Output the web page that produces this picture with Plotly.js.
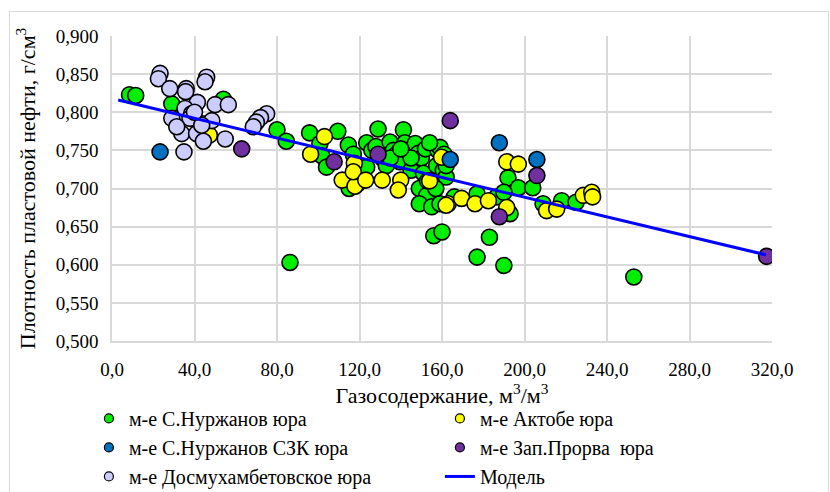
<!DOCTYPE html>
<html>
<head>
<meta charset="utf-8">
<script src="https://cdn.plot.ly/plotly-3.0.1.min.js"></script>
<style>
  html, body { margin: 0; padding: 0; background: #ffffff; font-family: "Liberation Serif", serif; }
  #chart { width: 830px; height: 492px; position: absolute; left: 0; top: 0; }
  svg text { font-family: "Liberation Serif", serif !important; }
  #frame { position: absolute; left: 9px; top: 11px; width: 818px; height: 490px;
           border: 1px solid #d9d9d9; pointer-events: none; }
</style>
</head>
<body>
<div id="chart"></div>
<div id="frame"></div>
<script>
// ---- Data ----
const seriesNames = [
  "м-е С.Нуржанов юра",
  "м-е Актобе юра",
  "м-е С.Нуржанов СЗК юра",
  "м-е Зап.Прорва  юра",
  "м-е Досмухамбетовское юра",
  "Модель"
];

const nurzhX = [8.5, 11.5, 29, 54, 44, 80, 84.5, 86.3,
  95.8, 100.8, 101.7, 104, 109.5, 114.6, 115, 117, 119, 123.5, 123.5, 126, 129, 128, 131, 133, 134.8,
  136.4, 138, 139.6, 141.3, 142, 143, 145, 147, 148.5, 150, 151, 152, 149, 152.6, 149, 155, 157.4,
  158, 159, 160.6, 159, 162, 156, 160, 166, 177, 186.5, 193, 183, 177, 190, 192, 197, 204, 209,
  218, 225, 253, 190, 161, 154, 135, 145, 140, 153, 157, 162];
const nurzhY = [0.823, 0.822, 0.811, 0.817, 0.785, 0.777, 0.762, 0.603,
  0.773, 0.759, 0.743, 0.728, 0.775, 0.757, 0.700, 0.745, 0.706, 0.760, 0.728, 0.750, 0.778, 0.755, 0.740, 0.730, 0.761,
  0.750, 0.745, 0.735, 0.777, 0.760, 0.750, 0.724, 0.759, 0.746, 0.740, 0.720, 0.752, 0.700, 0.691, 0.680, 0.676, 0.730,
  0.750, 0.754, 0.724, 0.680, 0.715, 0.638, 0.643, 0.689, 0.693, 0.689, 0.667, 0.636, 0.610, 0.599, 0.714, 0.701, 0.701, 0.680,
  0.684, 0.682, 0.584, 0.695, 0.745, 0.760, 0.740, 0.740, 0.752, 0.710, 0.700, 0.730];

const aktobeX = [47.2, 96.3, 103, 111.6, 117.8, 117.5, 117, 123, 131, 140, 138.8, 154, 159.8, 163, 162,
  169.5, 176, 182.5, 191.4, 197, 191.4, 210.7, 215.6, 228.5, 232.6, 233];
const aktobeY = [0.770, 0.745, 0.768, 0.711, 0.703, 0.733, 0.722, 0.711, 0.711, 0.711, 0.698, 0.710, 0.741, 0.680, 0.678,
  0.687, 0.680, 0.684, 0.735, 0.732, 0.675, 0.671, 0.673, 0.691, 0.695, 0.689];

const szkX = [23.3, 164, 187.8, 206];
const szkY = [0.748, 0.738, 0.760, 0.738];

const prorvaX = [62.9, 107.7, 129, 164, 187.8, 206, 317.4];
const prorvaY = [0.752, 0.735, 0.745, 0.789, 0.663, 0.717, 0.611];

const dosmX = [23.3, 22.5, 45.9, 45.1, 28, 36, 35.7, 41.4, 50, 56.4, 35.4, 38.6, 29, 37.8, 48.4, 33.8, 41,
  44.3, 54.9, 31.4, 43.5, 34.9, 75, 72, 70, 68.5, 40];
const dosmY = [0.851, 0.844, 0.846, 0.840, 0.831, 0.831, 0.827, 0.813, 0.810, 0.810, 0.805, 0.798, 0.792, 0.792, 0.789, 0.772, 0.772,
  0.762, 0.765, 0.781, 0.783, 0.748, 0.798, 0.793, 0.787, 0.781, 0.800];

const modelX = [3, 317];
const modelY = [0.816, 0.613];

const xTickVals = [0, 40, 80, 120, 160, 200, 240, 280, 320];
const yTickVals = [0.5, 0.55, 0.6, 0.65, 0.7, 0.75, 0.8, 0.85, 0.9];

// ---- Styles ----
const markerColors = ["#00ee00", "#ffff00", "#0070c0", "#7030a0", "#ccccff"];
const FAMILY = "Liberation Serif";

const seriesPts = [[nurzhX, nurzhY], [aktobeX, aktobeY], [szkX, szkY], [prorvaX, prorvaY], [dosmX, dosmY]];

const traces = [];
seriesPts.forEach((p, i) => {
  traces.push({
    type: "scatter", mode: "markers", x: p[0], y: p[1],
    name: seriesNames[i], showlegend: false, hoverinfo: "x+y",
    marker: { size: 16, color: markerColors[i], line: { color: "#000000", width: 1.6 } }
  });
});
traces.push({
  type: "scatter", mode: "lines", x: modelX, y: modelY, name: seriesNames[5], showlegend: false,
  line: { color: "#0000ff", width: 3 }
});
// legend entries (small symbols like the reference)
[0, 1, 2, 3, 4, 5].forEach(i => {
  if (i < 5) {
    traces.push({ type: "scatter", mode: "markers", x: [null], y: [null], name: seriesNames[i],
      marker: { size: 9, color: markerColors[i], line: { color: "#000000", width: 1.2 } } });
  } else {
    traces.push({ type: "scatter", mode: "lines", x: [null], y: [null], name: seriesNames[i],
      line: { color: "#0000ff", width: 3 } });
  }
});

const layout = {
  width: 830, height: 492,
  margin: { l: 112, r: 58, t: 36, b: 151, autoexpand: false },
  paper_bgcolor: "#ffffff", plot_bgcolor: "#ffffff",
  separators: ", ",
  font: { family: FAMILY, size: 19, color: "#000000" },
  xaxis: {
    range: [0, 320], tickvals: xTickVals, tickformat: ".1f",
    showgrid: true, gridcolor: "#d9d9d9", gridwidth: 1.5,
    showline: true, linecolor: "#d9d9d9", linewidth: 1.5, zeroline: false,
    ticks: "", ticklabelstandoff: 10,
    tickfont: { family: FAMILY, size: 19 },
    title: { text: "Газосодержание, м<sup>3</sup>/м<sup>3</sup>", font: { family: FAMILY, size: 22 }, standoff: 9 }
  },
  yaxis: {
    range: [0.5, 0.9], tickvals: yTickVals, tickformat: ".3f",
    showgrid: true, gridcolor: "#d9d9d9", gridwidth: 1.5,
    showline: true, linecolor: "#d9d9d9", linewidth: 1.5, zeroline: false,
    ticks: "", ticklabelstandoff: 8,
    tickfont: { family: FAMILY, size: 19 },
    title: { text: "Плотность пластовой нефти, г/см<sup>3</sup>", font: { family: FAMILY, size: 22 }, standoff: 14 }
  },
  showlegend: true,
  legend: {
    orientation: "h", x: -0.035, xanchor: "left", y: -0.19, yanchor: "top",
    entrywidth: 306, entrywidthmode: "pixels",
    font: { family: FAMILY, size: 20 },
    bgcolor: "rgba(0,0,0,0)"
  }
};

Plotly.newPlot("chart", traces, layout, { displayModeBar: false }).then(() => {
  document.querySelectorAll("#chart svg text").forEach(t => {
    t.style.setProperty("font-family", '"Liberation Serif", serif', "important");
  });
});
</script>
</body>
</html>
